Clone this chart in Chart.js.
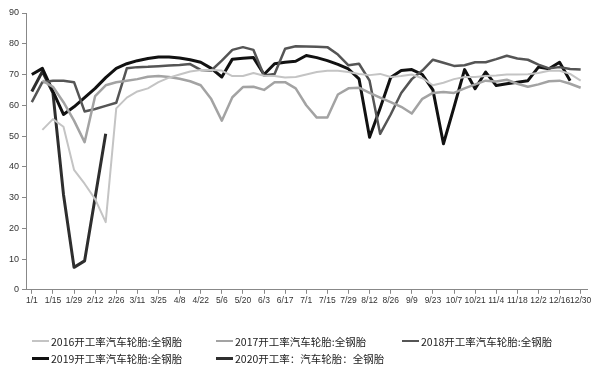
<!DOCTYPE html>
<html>
<head>
<meta charset="utf-8">
<script src="https://cdn.jsdelivr.net/npm/chart.js@4.4.1/dist/chart.umd.min.js"></script>
<style>
  html, body { margin: 0; padding: 0; background: #fff; }
  #wrap { position: relative; width: 600px; height: 369px; }
  #legend { position: absolute; left: 0; top: 0; width: 600px; height: 369px; pointer-events: none;
            font-family: "Noto Sans CJK SC", sans-serif; font-size: 10.5px; color: #222; }
  .item { position: absolute; display: flex; align-items: center; white-space: nowrap; height: 14px; }
  .swatch { display: inline-block; width: 17px; margin-right: 2px; }
</style>
</head>
<body>
<div id="wrap">
  <canvas id="chart" width="600" height="369"></canvas>
  <div id="legend"></div>
</div>
<script>
// weekly categories, label shown every other week
const weeks = ["1/1","1/8","1/15","1/22","1/29","2/5","2/12","2/19","2/26","3/4","3/11","3/18","3/25",
  "4/1","4/8","4/15","4/22","4/29","5/6","5/13","5/20","5/27","6/3","6/10","6/17","6/24",
  "7/1","7/8","7/15","7/22","7/29","8/5","8/12","8/19","8/26","9/2","9/9","9/16","9/23","9/30",
  "10/7","10/14","10/21","10/28","11/4","11/11","11/18","11/25","12/2","12/9","12/16","12/23","12/30"];

const s2016 = [null,52,55.5,53,39,34.5,29.5,22,59,62.5,64.5,65.5,67.5,69,70,71,71.5,71.5,71.3,69.5,
  69.5,70.5,69.6,69.5,69,69.2,70,70.8,71.2,71.2,70.8,70.2,69.8,70.2,69.2,69.5,70,68.8,66.5,67.3,
  68.5,69.2,69.2,69.5,69.7,70,70,70.1,70.5,71.2,71.2,70.2,68];
const s2017 = [null,68,66,61,55,48,63,66.5,67.5,68,68.5,69.3,69.5,69.2,68.6,67.8,66.5,62,55,62.6,
  65.9,66,65,67.5,67.5,65.5,60,56,56,63.5,65.5,65.7,64,62.5,61,59.5,57.3,62.1,64,64.3,
  64,65.5,66.8,68,67.7,68.3,67,66,66.8,67.8,68,67,65.7];
const s2018 = [61,67.5,68,68,67.5,58,58.8,59.8,60.8,72,72.4,72.5,72.7,72.9,73.1,73.4,71.5,71.3,74.5,78,
  78.9,78,69.7,70.2,78.4,79.2,79.1,79,78.9,76.5,73,73.5,68,50.7,57,64,68.5,71.3,74.8,73.8,
  72.8,73,74,74,75,76.1,75.2,74.8,73.2,72,72.4,71.8,71.6];
const s2019 = [70,72,64.5,57,59.5,62.5,65.5,69,72,73.5,74.5,75.2,75.7,75.7,75.4,74.8,74,72,69.2,75,
  75.3,75.5,70,73.5,74,74.3,76.2,75.5,74.5,73.3,71.8,68.6,49.6,59,69,71.3,71.6,70,65,47.5,
  59.4,71.6,65.4,70.8,66.4,67,67.5,68,72.4,71.9,74,68,null];
const s2020 = [64.5,71,64,31,7.3,9.4,30,50.7];

const series = [
  { label: "2016开工率汽车轮胎:全钢胎", data: s2016, color: "#c4c4c4", width: 2 },
  { label: "2017开工率汽车轮胎:全钢胎", data: s2017, color: "#a3a3a3", width: 2.5 },
  { label: "2018开工率汽车轮胎:全钢胎", data: s2018, color: "#555555", width: 2.5 },
  { label: "2019开工率汽车轮胎:全钢胎", data: s2019, color: "#111111", width: 3 },
  { label: "2020开工率：汽车轮胎：全钢胎", data: s2020, color: "#2e2e2e", width: 3 }
];

new Chart(document.getElementById("chart"), {
  type: "line",
  data: {
    datasets: series.map(s => ({
      label: s.label,
      data: s.data.map((v, i) => ({ x: i, y: v })),
      borderColor: s.color,
      borderWidth: s.width,
      pointRadius: 0,
      tension: 0,
      fill: false,
      borderJoinStyle: "round"
    }))
  },
  options: {
    responsive: false,
    animation: false,
    layout: { padding: { left: 6, right: 13, top: 13, bottom: 61 } },
    plugins: { legend: { display: false }, tooltip: { enabled: false } },
    scales: {
      x: {
        type: "linear",
        min: -0.55, max: 52.6,
        grid: { drawOnChartArea: false, tickLength: 4, color: "#888" },
        border: { color: "#888" },
        ticks: {
          stepSize: 2, includeBounds: false, autoSkip: false, maxRotation: 0, padding: 2, color: "#333",
          font: { family: "Liberation Sans", size: 8.5 },
          callback: v => (Number.isInteger(v) && weeks[v] ? weeks[v] : null)
        }
      },
      y: {
        min: 0, max: 90,
        grid: { drawOnChartArea: false, tickLength: 4, color: "#888" },
        border: { color: "#888" },
        ticks: { stepSize: 10, padding: 3, color: "#333", font: { family: "Liberation Sans", size: 9 } }
      }
    }
  }
});

// legend laid out in fixed columns like the original
const legendPos = [[32, 334], [216, 334], [402, 334], [32, 351], [216, 351]];
const legend = document.getElementById("legend");
series.forEach((s, i) => {
  const item = document.createElement("div");
  item.className = "item";
  item.style.left = legendPos[i][0] + "px";
  item.style.top = legendPos[i][1] + "px";
  const sw = document.createElement("span");
  sw.className = "swatch";
  sw.style.borderTop = s.width + "px solid " + s.color;
  item.appendChild(sw);
  item.appendChild(document.createTextNode(s.label));
  legend.appendChild(item);
});
</script>
</body>
</html>
